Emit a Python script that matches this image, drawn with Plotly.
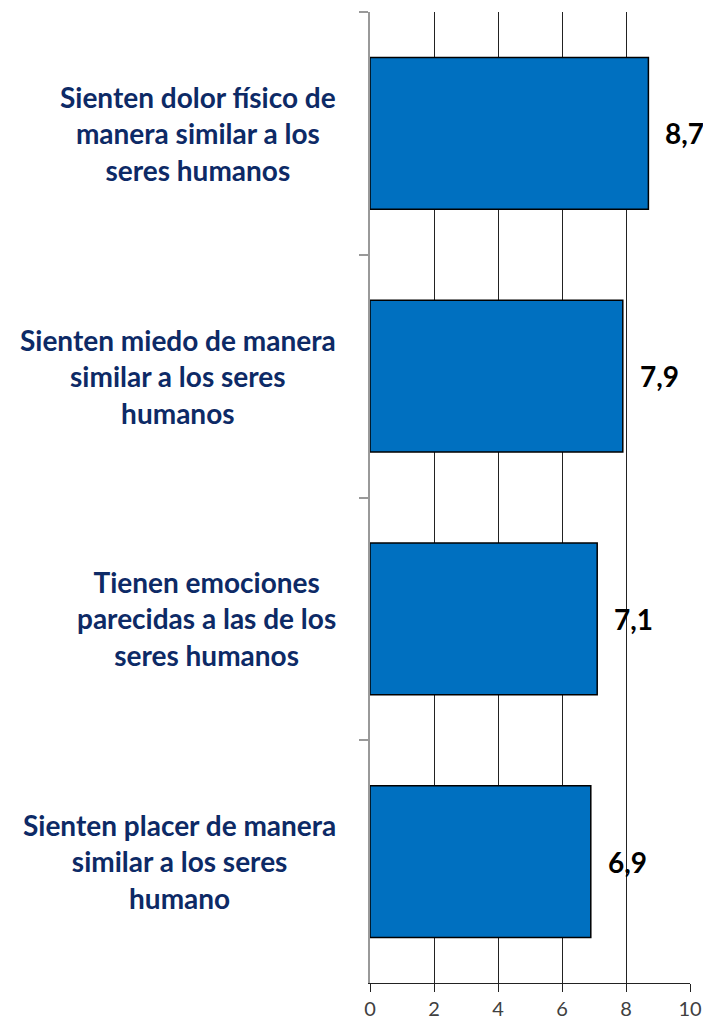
import plotly.graph_objects as go

# Data
categorias = [
    "Sienten dolor físico de<br>manera similar a los<br>seres humanos",
    "Sienten miedo de manera<br>similar a los seres<br>humanos",
    "Tienen emociones<br>parecidas a las de los<br>seres humanos",
    "Sienten placer de manera<br>similar a los seres<br>humano",
]
valores = [8.7, 7.9, 7.1, 6.9]
x_ticks = [0, 2, 4, 6, 8, 10]

ids = [f"c{i}" for i in range(len(categorias))]

fig = go.Figure(go.Bar(
    x=valores,
    y=ids,
    orientation="h",
    width=0.625,
    marker=dict(color="#0070C0", line=dict(color="#000000", width=1.5)),
    hoverinfo="x",
))

annotations = []
# category labels, centered text block to the left of the axis
for cid, label in zip(ids, categorias):
    annotations.append(dict(
        x=-0.1, y=cid, xref="paper", yref="y",
        text=f"<b>{label}</b>", showarrow=False,
        xanchor="right", yanchor="middle", align="center",
        font=dict(family="Lato", size=28, color="#0D2A66"),
    ))
# value labels
for cid, v in zip(ids, valores):
    annotations.append(dict(
        x=v, y=cid, xref="x", yref="y",
        text=f"<b>{v:.1f}</b>".replace(".", ","), showarrow=False,
        xanchor="left", yanchor="middle", xshift=15,
        font=dict(family="Lato", size=28, color="#000000"),
    ))

fig.update_layout(
    width=703, height=1022,
    margin=dict(l=370, r=13, t=12, b=39, autoexpand=False),
    paper_bgcolor="white", plot_bgcolor="white",
    showlegend=False,
    annotations=annotations,
    bargap=0.375,
)
fig.update_xaxes(
    range=[0, 10], tickvals=x_ticks, ticktext=[str(t) for t in x_ticks],
    showgrid=True, gridcolor="#222222", gridwidth=1.2,
    zeroline=False, automargin=False,
    showline=True, linecolor="#222222", linewidth=1.2,
    ticks="outside", ticklen=8, tickcolor="#222222", tickwidth=1.2,
    tickfont=dict(family="Lato", size=20, color="#404040"),
)
fig.update_yaxes(
    categoryorder="array", categoryarray=ids, autorange="reversed",
    showticklabels=False, showgrid=False, zeroline=False, automargin=False,
    showline=True, linecolor="#999999", linewidth=1.5,
    ticks="outside", ticklen=9, tickcolor="#999999", tickwidth=1.5,
    tickson="boundaries",
)

# drop the default body margin so the figure sits at the page corner
fig.write_html(
    "out.html",
    config={"displayModeBar": False},
    post_script="document.body.style.margin='0';",
)
